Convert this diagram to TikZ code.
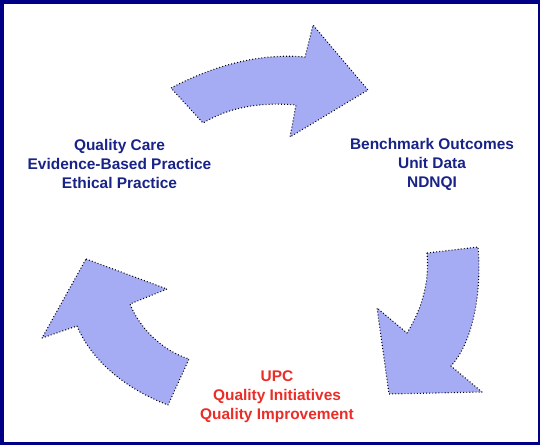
\documentclass[tikz,border=0pt]{standalone}
\usepackage{fontspec}
\setmainfont{Liberation Sans}
\usepackage{tikz}
\usetikzlibrary{calc, positioning}

\definecolor{frameblue}{RGB}{0,0,135}
\definecolor{arrowfill}{RGB}{165,172,244}
\definecolor{textblue}{RGB}{25,35,135}
\definecolor{textred}{RGB}{235,45,40}

\begin{document}
\begin{tikzpicture}[x=1bp, y=-1bp,
        cyclearrow/.style={fill=arrowfill, draw=black, line width=1.1pt,
            dash pattern=on 0.9pt off 2.2pt, line join=round},
        cycletext/.style={align=center, font=\bfseries\fontsize{15.5}{19}\selectfont,
            inner sep=0pt}]
        \useasboundingbox (0,0) rectangle (540,445);
        \fill[frameblue] (0,0) rectangle (540,445);
        \fill[white] (4,4) rectangle (537.5,442);

        % top arrow
        \draw[cyclearrow] (171,88) .. controls (215,65) and (260,53) .. (305,57)
            -- (313,25) -- (368,90) -- (290,137) -- (296,105)
            .. controls (260,102) and (230,107) .. (203,123) -- cycle;

        % right arrow
        \draw[cyclearrow] (427,253) -- (478,247)
            .. controls (482,292) and (473,342) .. (451,366)
            -- (482,392) -- (389,394) -- (377,308) -- (407,333)
            .. controls (420,312) and (430,285) .. (427,253) -- cycle;

        % left arrow
        \draw[cyclearrow] (86,259) -- (167,289) -- (130,304)
            .. controls (138,325) and (160,350) .. (189,359)
            -- (168,405) .. controls (128,390) and (92,362) .. (77,326)
            -- (42,338) -- cycle;

        \node[cycletext, text=textblue] (nCare) at (119.5,164)
            {Quality Care\\Evidence-Based Practice\\Ethical Practice};
        \node[cycletext, text=textblue] (nBench) at (432,164)
            {Benchmark Outcomes\\Unit Data\\NDNQI};
        \node[cycletext, text=textred] (nUpc) at (277,397)
            {UPC\\Quality Initiatives\\Quality Improvement};

        \end{tikzpicture}
\end{document}
